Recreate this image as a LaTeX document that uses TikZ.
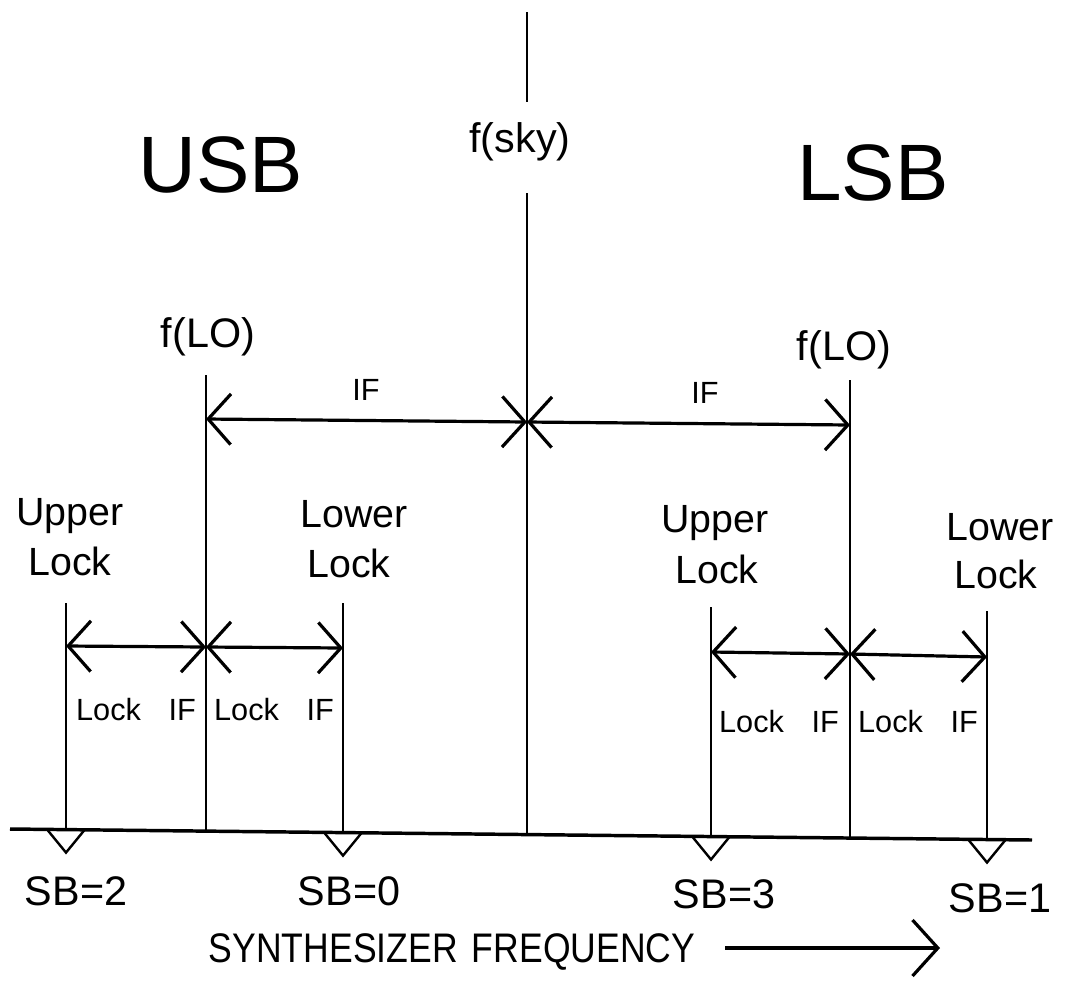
\documentclass[tikz,border=0pt]{standalone}
\usepackage{fontspec}
\setmainfont{Liberation Sans}
\usetikzlibrary{arrows.meta}
\begin{document}
\begin{tikzpicture}[x=0.75pt,y=-0.75pt,
  ln/.style={line width=2pt},
  dim/.style={line width=2.4pt,{Straight Barb[length=17pt,width=38pt]}-{Straight Barb[length=17pt,width=38pt]}},
  tri/.style={line width=1.8pt,line join=miter},
  txt/.style={inner sep=0pt,anchor=base},
  big/.style={txt,font=\fontsize{60}{60}\selectfont},
  mid/.style={txt,font=\fontsize{31}{31}\selectfont},
  lbl/.style={txt,font=\fontsize{29.5}{29.5}\selectfont},
  sml/.style={txt,font=\fontsize{23}{23}\selectfont},
  syn/.style={txt,font=\fontsize{31}{31}\selectfont}]
\useasboundingbox (0,0) rectangle (1068,1001);
% baseline (slightly slanted as in the scan)
\coordinate (bl) at (10,829);
\coordinate (br) at (1032,840);
\draw[line width=2.6pt] (bl) -- (br);
% base points of verticals
\coordinate (b1) at (66,829.6);
\coordinate (b2) at (206,831.1);
\coordinate (b3) at (343,832.6);
\coordinate (b4) at (527,834.6);
\coordinate (b5) at (711,836.5);
\coordinate (b6) at (850,838.0);
\coordinate (b7) at (987,839.5);
% tops
\coordinate (t1) at (66,603);
\coordinate (t2) at (206,375);
\coordinate (t3) at (343,603);
\coordinate (t4a) at (527,12);
\coordinate (t4b) at (527,102);
\coordinate (t4) at (527,193);
\coordinate (t5) at (711,607);
\coordinate (t6) at (850,380);
\coordinate (t7) at (987,611);
\draw[ln] (t1) -- (b1);
\draw[ln] (t2) -- (b2);
\draw[ln] (t3) -- (b3);
\draw[ln] (t4a) -- (t4b);
\draw[ln] (t4) -- (b4);
\draw[ln] (t5) -- (b5);
\draw[ln] (t6) -- (b6);
\draw[ln] (t7) -- (b7);
% IF dimension arrows
\coordinate (ifL) at (206,419);
\coordinate (ifC) at (527,422);
\coordinate (ifR) at (850,425);
\draw[dim] (ifL) -- (ifC);
\draw[dim] (ifC) -- (ifR);
% Lock IF arrows
\coordinate (lL1) at (66,646);
\coordinate (lL2) at (206,647);
\coordinate (lL3) at (343,648);
\draw[dim] (lL1) -- (lL2);
\draw[dim] (lL2) -- (lL3);
\coordinate (lR1) at (711,652);
\coordinate (lR2) at (850,654);
\coordinate (lR3) at (987,657);
\draw[dim] (lR1) -- (lR2);
\draw[dim] (lR2) -- (lR3);
% triangles
\foreach \x/\y in {66/829.6,343/832.6,711/836.5,987/839.5}{
  \draw[tri] (\x-18,\y+1) -- (\x,\y+23) -- (\x+18,\y+1);
}
% texts
\node[big] (usb) at (221,192) {USB};
\node[big] (lsb) at (873,200) {LSB};
\node[mid] (sky) at (520,152) {f(sky)};
\node[mid] (loL) at (208,347) {f(LO)};
\node[mid] (loR) at (844,360) {f(LO)};
\node[sml] (ifl) at (366,400) {IF};
\node[sml] (ifr) at (705,403) {IF};
\node[lbl] (u1) at (70,525) {Upper};
\node[lbl] (u1b) at (70,575) {Lock};
\node[lbl] (l1) at (354,527) {Lower};
\node[lbl] (l1b) at (349,577) {Lock};
\node[lbl] (u2) at (715,532) {Upper};
\node[lbl] (u2b) at (717,583) {Lock};
\node[lbl] (l2) at (1000,540) {Lower};
\node[lbl] (l2b) at (996,588) {Lock};
\node[sml] (li1) at (136,720) {Lock\hspace{0.9em}IF};
\node[sml] (li2) at (274,720) {Lock\hspace{0.9em}IF};
\node[sml] (li3) at (779,732) {Lock\hspace{0.9em}IF};
\node[sml] (li4) at (918,732) {Lock\hspace{0.9em}IF};
\node[mid] (sb2) at (76,905) {SB=2};
\node[mid] (sb0) at (349,905) {SB=0};
\node[mid] (sb3) at (724,908) {SB=3};
\node[mid] (sb1) at (1000,912) {SB=1};
\node[syn] (syn) at (452,962) {\scalebox{0.86}[1]{SYNTHESIZER\hspace{0.4em}FREQUENCY}};
\coordinate (a0) at (725,948);
\coordinate (a1) at (940,948);
\draw[line width=2.4pt,-{Straight Barb[length=19pt,width=42pt]}] (a0) -- (a1);
\end{tikzpicture}
\end{document}
